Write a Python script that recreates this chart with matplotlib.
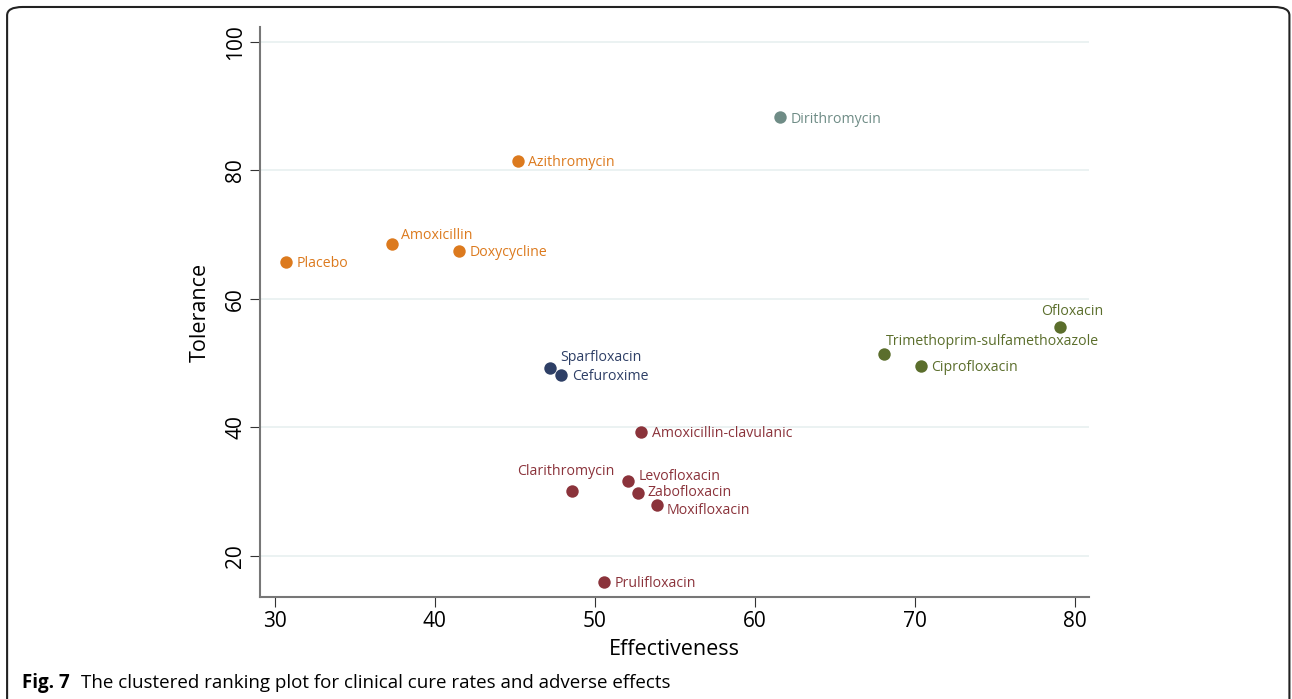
import matplotlib
matplotlib.use('Agg')
import matplotlib.pyplot as plt
from matplotlib.patches import FancyBboxPatch

plt.rcParams['font.family'] = ['Open Sans', 'DejaVu Sans']

# 数据: 名称, 有效性, 耐受性, 聚类
names = ['Placebo', 'Amoxicillin', 'Doxycycline', 'Azithromycin',
         'Dirithromycin',
         'Ofloxacin', 'Trimethoprim-sulfamethoxazole', 'Ciprofloxacin',
         'Sparfloxacin', 'Cefuroxime',
         'Amoxicillin-clavulanic', 'Clarithromycin', 'Levofloxacin',
         'Zabofloxacin', 'Moxifloxacin', 'Prulifloxacin']
effect = [30.7, 37.3, 41.5, 45.2,
          61.6,
          79.1, 68.1, 70.4,
          47.2, 47.9,
          52.9, 48.6, 52.1,
          52.7, 53.9, 50.6]
toler = [65.8, 68.6, 67.5, 81.5,
         88.3,
         55.6, 51.4, 49.6,
         49.3, 48.2,
         39.3, 30.1, 31.7,
         29.8, 27.9, 16.0]
cluster = [0, 0, 0, 0,
           1,
           2, 2, 2,
           3, 3,
           4, 4, 4,
           4, 4, 4]
colors = ['#dc7a1e', '#6f8c86', '#5b6e2c', '#2e3f66', '#8b333b']

# 标签位置 (偏移, 对齐方式)
pos = {'Amoxicillin': (7, 6, 'left'),
       'Ofloxacin': (9, 11, 'center'),
       'Trimethoprim-sulfamethoxazole': (1, 9, 'left'),
       'Sparfloxacin': (7, 7, 'left'),
       'Clarithromycin': (-5, 14, 'center'),
       'Levofloxacin': (7, 3, 'left'),
       'Zabofloxacin': (7, 0, 'left'),
       'Moxifloxacin': (7, -4, 'left')}

fig = plt.figure(figsize=(12.92, 6.99), dpi=100)
ax = fig.add_axes([0.2012, 0.1459, 0.6417, 0.8155])

for i in range(len(names)):
    c = colors[cluster[i]]
    ax.scatter(effect[i], toler[i], s=80, color=c, zorder=3, linewidths=0)
    dx, dy, ha = pos.get(names[i], (7.5, -1.5, 'left'))
    ax.annotate(names[i], (effect[i], toler[i]), xytext=(dx, dy),
                textcoords='offset points', ha=ha, va='center',
                fontsize=10.2, color=c)

ax.set_xlim(29.06, 80.9)
ax.set_ylim(13.6, 102.3)
ax.set_xticks([30, 40, 50, 60, 70, 80])
ax.set_yticks([20, 40, 60, 80, 100])
ax.grid(axis='y', color='#e8f0f0', linewidth=1.2)
ax.set_axisbelow(True)
for s in ['top', 'right']:
    ax.spines[s].set_visible(False)
for s in ['left', 'bottom']:
    ax.spines[s].set_color('#777777')
    ax.spines[s].set_linewidth(1.5)
ax.tick_params(axis='both', length=7, width=0.8, color='#333333', labelsize=15, pad=3)
plt.setp(ax.get_yticklabels(), rotation=90, va='center')
ax.set_xlabel('Effectiveness', fontsize=15.5, labelpad=5)
ax.set_ylabel('Tolerance', fontsize=15.5, labelpad=10)

# 外框和图注
box = FancyBboxPatch((0.0055, -0.05), 0.9925, 1.04, transform=fig.transFigure,
                     boxstyle='round,pad=0,rounding_size=0.012',
                     fill=False, edgecolor='#222222', linewidth=1.5)
fig.patches.append(box)
fig.text(0.017, 0.016, 'Fig. 7', fontsize=13.5, fontweight='bold', va='baseline')
fig.text(0.063, 0.016, 'The clustered ranking plot for clinical cure rates and adverse effects',
         fontsize=13.5, va='baseline')

fig.savefig('out.png', dpi=100)
